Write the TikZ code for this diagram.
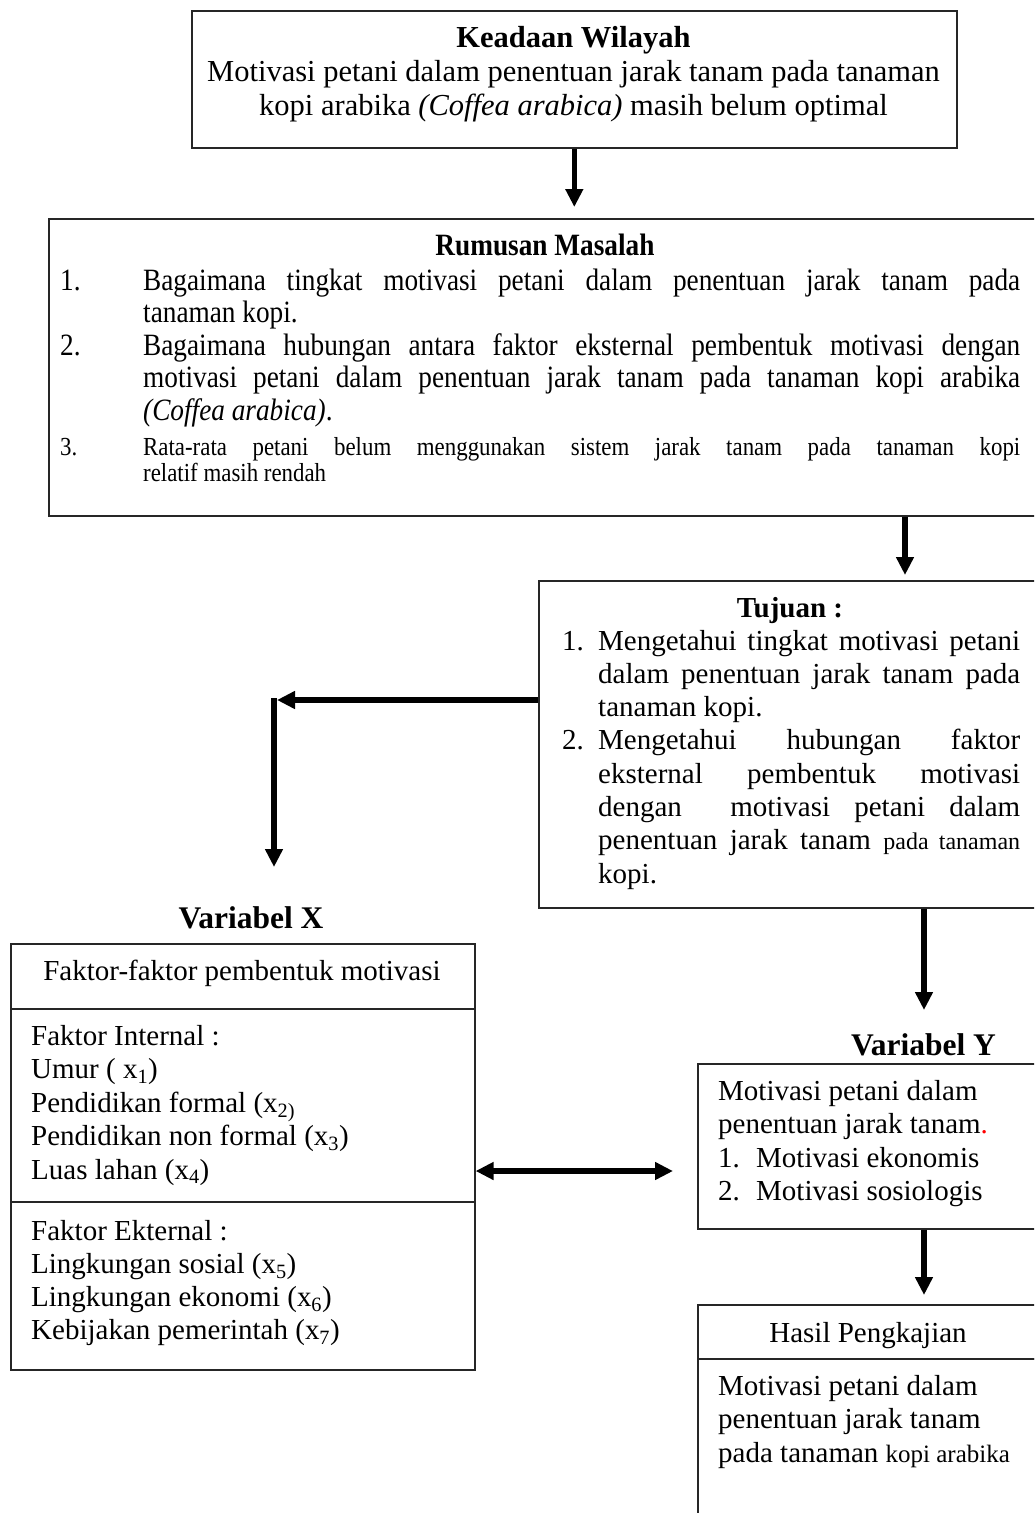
\documentclass[tikz,border=0pt]{standalone}
\usepackage{fontspec}
\setmainfont{Liberation Serif}
\newfontfamily\condfont[FakeStretch=0.88]{Liberation Serif}
\usetikzlibrary{arrows.meta}
\newcommand{\fsz}[2]{\fontsize{#1}{#2}\selectfont\spaceskip=0pt\xspaceskip=0pt\relax}
\newcommand{\fszc}[2]{\fontsize{#1}{#2}\selectfont\spaceskip=.25em\xspaceskip=.3em\relax}
\begin{document}
\begin{tikzpicture}[x=1pt,y=-1pt,
  box/.style={draw=black!85, line width=1.6pt, anchor=north west, inner sep=0pt},
  txt/.style={inner sep=0pt, anchor=base west, align=left, text width=#1},
  ctr/.style={inner sep=0pt, anchor=base, align=center},
  arr/.style={line width=5.5pt, -{Triangle[length=18pt,width=17pt]}},
  dbl/.style={line width=5.5pt, {Triangle[length=18pt,width=17pt]}-{Triangle[length=18pt,width=17pt]}}]
\useasboundingbox (0,0) rectangle (1034,1513);
\clip (0,0) rectangle (1034,1513);

% boxes
\node[box, minimum width=765pt, minimum height=137pt] (kw) at (191,10) {};
\node[box, minimum width=1000pt, minimum height=297pt] (rm) at (48,218) {};
\node[box, minimum width=510pt, minimum height=327pt] (tj) at (538,580) {};
\node[box, minimum width=464pt, minimum height=65pt] (xh) at (10,943) {};
\node[box, minimum width=464pt, minimum height=193pt] (xi) at (10,1008) {};
\node[box, minimum width=464pt, minimum height=168pt] (xe) at (10,1201) {};
\node[box, minimum width=350pt, minimum height=165pt] (yb) at (697,1063) {};
\node[box, minimum width=350pt, minimum height=54pt] (hh) at (697,1304) {};
\node[box, minimum width=350pt, minimum height=180pt] (hb) at (697,1358) {};

% texts
\node[ctr, text width=760pt] (kwt) at (573.5,47) {\fszc{30.5}{34}\textbf{Keadaan Wilayah}\\
Motivasi petani dalam penentuan jarak tanam pada tanaman\\
kopi arabika \textit{(Coffea arabica)} masih belum optimal\par};

\node[ctr] (rmt) at (545,255) {\condfont\fsz{31}{34}\bfseries Rumusan Masalah};
\node[txt=970pt] (rmi) at (60,290) {\condfont\fsz{31}{32.6}%
\makebox[83pt][l]{1.}\makebox[877pt][s]{Bagaimana tingkat motivasi petani dalam penentuan jarak tanam pada}\\
\hspace*{83pt}tanaman kopi.\\
\makebox[83pt][l]{2.}\makebox[877pt][s]{Bagaimana hubungan antara faktor eksternal pembentuk motivasi dengan}\\
\hspace*{83pt}\makebox[877pt][s]{motivasi petani dalam penentuan jarak tanam pada tanaman kopi arabika}\\
\hspace*{83pt}\textit{(Coffea arabica)}.\par};
\node[txt=970pt] (rm3) at (60,455) {\condfont\fsz{26}{26.5}%
\makebox[83pt][l]{3.}\makebox[877pt][s]{Rata-rata petani belum menggunakan sistem jarak tanam pada tanaman kopi}\\
\hspace*{83pt}relatif masih rendah\par};

\node[ctr] (tjt) at (790,617) {\fsz{29}{33}\bfseries Tujuan :};
\node[txt=470pt] (tji) at (562,650) {\fsz{29}{33.3}%
\makebox[36pt][l]{1.}\makebox[422pt][s]{Mengetahui tingkat motivasi petani}\\
\hspace*{36pt}\makebox[422pt][s]{dalam penentuan jarak tanam pada}\\
\hspace*{36pt}tanaman kopi.\\
\makebox[36pt][l]{2.}\makebox[422pt][s]{Mengetahui hubungan faktor}\\
\hspace*{36pt}\makebox[422pt][s]{eksternal pembentuk motivasi}\\
\hspace*{36pt}\makebox[422pt][s]{dengan \ motivasi petani dalam}\\
\hspace*{36pt}\makebox[422pt][s]{penentuan jarak tanam {\fsz{24}{33.3}pada tanaman}}\\
\hspace*{36pt}kopi.\par};

\node[ctr] (vx) at (251,928) {\fsz{31.5}{34}\bfseries Variabel X};
\node[ctr] (xht) at (242,980) {\fsz{29}{33}Faktor-faktor pembentuk motivasi};
\node[txt=430pt] (xit) at (31,1045) {\fsz{29}{33.5}Faktor Internal :\\
Umur ( x\textsubscript{1})\\
Pendidikan formal (x\textsubscript{2)}\\
Pendidikan non formal (x\textsubscript{3})\\
Luas lahan (x\textsubscript{4})\par};
\node[txt=430pt] (xet) at (31,1240) {\fsz{29}{33.3}Faktor Ekternal :\\
Lingkungan sosial (x\textsubscript{5})\\
Lingkungan ekonomi (x\textsubscript{6})\\
Kebijakan pemerintah (x\textsubscript{7})\par};

\node[ctr] (vy) at (923.5,1055) {\fsz{31.5}{34}\bfseries Variabel Y};
\node[txt=320pt] (ybt) at (718,1100) {\fsz{29}{33.5}Motivasi petani dalam\\
penentuan jarak tanam\textcolor{red}{.}\\
\makebox[38pt][l]{1.}Motivasi ekonomis\\
\makebox[38pt][l]{2.}Motivasi sosiologis\par};

\node[ctr] (hht) at (868,1342) {\fsz{29}{33}Hasil Pengkajian};
\node[txt=320pt] (hbt) at (718,1395) {\fsz{29}{33.5}Motivasi petani dalam\\
penentuan jarak tanam\\
pada tanaman {\fsz{25}{33.5}kopi arabika}\par};

% connectors
\coordinate (corner) at (274,700);
\coordinate (vxtip) at (274,867);
\coordinate (a2) at (905,0);
\coordinate (a5) at (924,0);
\coordinate (vytip) at (924,1010);
\coordinate (bid) at (474,1171);
\draw[arr, shorten >=11pt] (kw.south) -- (kw.south |- rm.north);
\draw[arr, shorten >=5pt] (rm.south -| a2) -- (tj.north -| a2);
\draw[arr] (tj.west |- corner) -- ([xshift=3pt]corner);
\draw[arr] ([yshift=2pt]corner) -- (vxtip);
\draw[arr] (tj.south -| a5) -- (vytip);
\draw[dbl, shorten >=24pt] (xi.east |- bid) -- (yb.west |- bid);
\draw[arr, shorten >=9pt] (yb.south -| a5) -- (hh.north -| a5);
\end{tikzpicture}
\end{document}
